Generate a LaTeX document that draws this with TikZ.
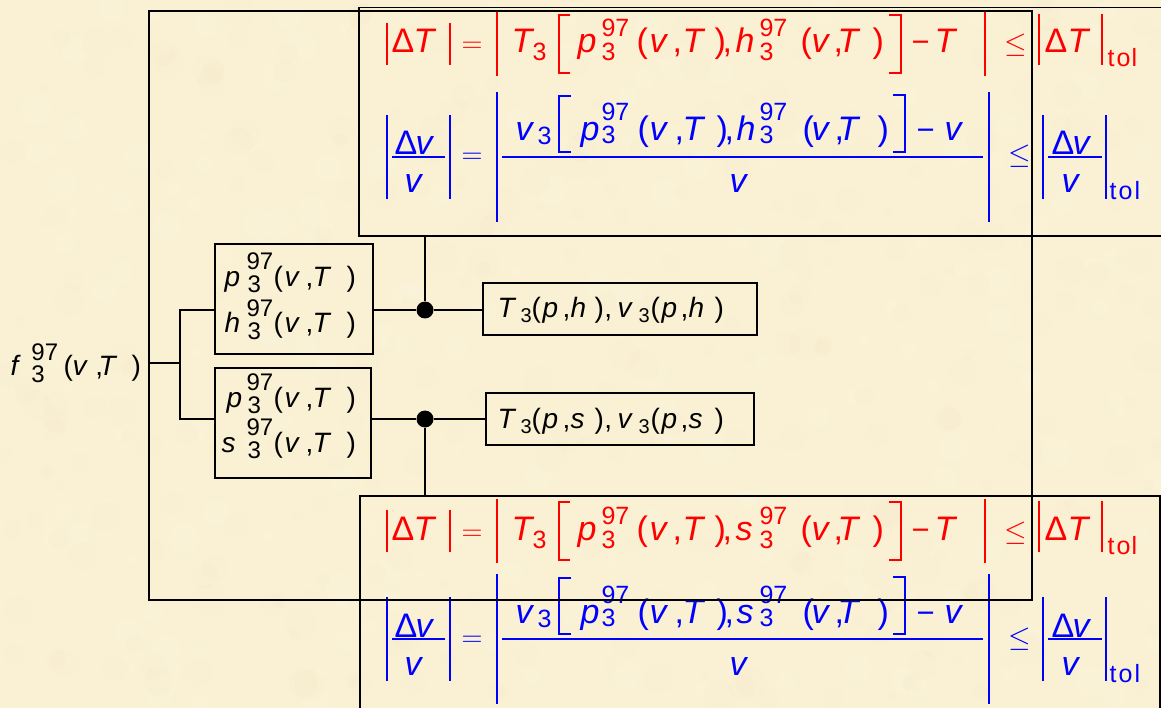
\documentclass[tikz,border=0pt]{standalone}
\usepackage{fix-cm}
\usepackage[no-math]{fontspec}
\setmainfont{Liberation Sans}
\definecolor{bg}{RGB}{250,241,212}
\definecolor{spotd}{RGB}{238,224,184}
\definecolor{spotl}{RGB}{255,250,234}
\definecolor{fr}{RGB}{255,0,0}
\definecolor{fb}{RGB}{0,0,255}
\newcommand\tk[3][0]{\unskip\rlap{\hspace*{#2pt}\raisebox{#1pt}{#3}}}
\newcommand\iv[1]{{\itshape #1}}
\newcommand\FB{\fontsize{34}{40}\selectfont}
\newcommand\FS{\fontsize{25}{30}\selectfont}
\newcommand\FE{\fontsize{29}{34}\selectfont}
\newcommand\FM{\fontsize{31}{36}\selectfont}
\newcommand\BB{\fontsize{28}{33}\selectfont}
\newcommand\BS{\fontsize{24}{28}\selectfont}
\newcommand\TB{\fontsize{28}{33}\selectfont}
\newcommand\TS{\fontsize{20}{24}\selectfont}
\tikzset{
  tx/.style={anchor=base west, inner sep=0pt, outer sep=0pt},
  bx/.style={draw, line width=1.3pt, inner sep=0pt, outer sep=0pt},
  fbx/.style={draw, line width=1.8pt, inner sep=0pt, outer sep=0pt},
  conn/.style={line width=1.2pt},
  rb/.style={draw=fr, line width=2pt},
  bb/.style={draw=fb, line width=2pt},
  rk/.style={draw=fr, line width=1.4pt},
  bk/.style={draw=fb, line width=1.4pt},
  dot/.style={circle, fill=black, inner sep=0pt, minimum size=17pt},
}
% #1 letter, #2 name prefix, #3 red shift, #4 blue shift
\newcommand\formulapair[4]{%
\begin{scope}[yshift=-#3pt]
  \draw[rb] (387,23) -- (387,65);
  \draw[rb] (450,23) -- (450,65);
  \draw[rb] (497,12) -- (497,76);
  \draw[rb] (985,12) -- (985,76);
  \draw[rk] (570,15) -- (559,15) -- (559,73) -- (570,73);
  \draw[rk] (889,15) -- (901,15) -- (901,73) -- (889,73);
  \draw[rb] (1039,14) -- (1039,65);
  \draw[rb] (1102,14) -- (1102,65);
  \node[tx, text=fr, font=\FB] (#2r) at (0,53) {%
    \tk{391}{Δ}\tk{413}{\iv T}%
    \tk{461}{\FE$=$}%
    \tk{511}{\iv T}\tk[-8]{532}{\FS 3}%
    \tk{577}{\iv p}\tk[16]{601}{\FS 97}\tk[-8]{601}{\FS 3}%
    \tk{636}{(}\tk{649}{\iv v}\tk{672}{,}\tk{682}{\iv T}\tk{714}{)}\tk{722}{,}%
    \tk{735}{\iv #1}\tk[16]{759}{\FS 97}\tk[-8]{759}{\FS 3}%
    \tk{800}{(}\tk{811}{\iv v}\tk{833}{,}\tk{837}{\iv T}\tk{872}{)}%
    \tk{911}{\FM −}\tk{934}{\iv T}%
    \tk{1004}{\FE$\leq$}%
    \tk{1044}{Δ}\tk{1067}{\iv T}%
    \tk[-14]{1107}{\FS t}\tk[-14]{1116}{\FS o}\tk[-14]{1131}{\FS l}};
\end{scope}
\begin{scope}[yshift=-#4pt]
  \draw[bb] (387,115) -- (387,199);
  \draw[bb] (450,115) -- (450,199);
  \draw[bb] (497,92) -- (497,222);
  \draw[bb] (989,92) -- (989,222);
  \draw[bb] (1043,115) -- (1043,199);
  \draw[bb] (1106,115) -- (1106,199);
  \draw[bk] (392,157) -- (445,157);
  \draw[bk] (502,157) -- (983,157);
  \draw[bk] (1048,157) -- (1102,157);
  \draw[bk] (571,96) -- (559,96) -- (559,152) -- (571,152);
  \draw[bk] (893,95) -- (905,95) -- (905,152) -- (893,152);
  \node[tx, text=fb, font=\FB] (#2b) at (0,141) {%
    \tk[-14]{394}{Δ}\tk[-14]{415}{\iv v}\tk[-52]{404}{\iv v}%
    \tk[-23]{461}{\FE$=$}%
    \tk{515}{\iv v}\tk[-4]{537}{\FS 3}%
    \tk{580}{\iv p}\tk[20]{601}{\FS 97}\tk[-3]{601}{\FS 3}%
    \tk{637}{(}\tk{649}{\iv v}\tk{674}{,}\tk{682}{\iv T}\tk{716}{)}\tk{724}{,}%
    \tk{736}{\iv #1}\tk[20]{759}{\FS 97}\tk[-3]{759}{\FS 3}%
    \tk{802}{(}\tk{811}{\iv v}\tk{834}{,}\tk{837}{\iv T}\tk{877}{)}%
    \tk{916}{\FM −}\tk{944}{\iv v}%
    \tk[-52]{729}{\iv v}%
    \tk[-23]{1008}{\FE$\leq$}%
    \tk[-14]{1051}{Δ}\tk[-14]{1072}{\iv v}\tk[-52]{1061}{\iv v}%
    \tk[-59]{1109}{\FS t}\tk[-59]{1118}{\FS o}\tk[-59]{1134}{\FS l}};
\end{scope}}
% box line: #1 letter, #2 first x
\newcommand\boxline[2]{%
  \tk{#2}{\iv #1}\tk[17]{246}{\BS 97}\tk[-6]{247}{\BS 3}%
  \tk{273}{(}\tk{284}{\iv v}\tk{305}{,}\tk{312}{\iv T}\tk{346}{)}}
\newcommand\tline[1]{%
  \tk{497}{\iv T}\tk[-5]{520}{\TS 3}\tk{531}{(}\tk{542}{\iv p}\tk{562}{,}%
  \tk{570}{\iv #1}\tk{594}{)}\tk{604}{,}\tk{617}{\iv v}\tk[-5]{638}{\TS 3}%
  \tk{650}{(}\tk{661}{\iv p}\tk{680}{,}\tk{688}{\iv #1}\tk{714}{)}}
\begin{document}
\begin{tikzpicture}[x=1pt, y=-1pt]
\useasboundingbox (0,0) rectangle (1161,708);
\fill[bg] (0,0) rectangle (1161,708);
\clip (0,0) rectangle (1161,708);
% parchment texture (subtle)
\pgfmathsetseed{12}
\foreach \i in {1,...,320}{
  \pgfmathsetmacro\xx{rnd*1161}
  \pgfmathsetmacro\yy{rnd*708}
  \pgfmathsetmacro\rr{4+rnd*12}
  \fill[spotd, opacity=0.07] (\xx,\yy) circle[radius=\rr];
}
\foreach \i in {1,...,200}{
  \pgfmathsetmacro\xx{rnd*1161}
  \pgfmathsetmacro\yy{rnd*708}
  \pgfmathsetmacro\rr{4+rnd*12}
  \fill[spotl, opacity=0.12] (\xx,\yy) circle[radius=\rr];
}

% formula boxes
\node[fbx, minimum width=811pt, minimum height=228.5pt] (F1) at (764.5,121.75) {};
\node[fbx, minimum width=800pt, minimum height=224pt] (F2) at (760,608) {};
\formulapair{h}{A}{0}{0}
\formulapair{s}{B}{487}{482}

% left label
\node[tx, font=\BB] (f) at (0,375) {%
  \tk{10}{\iv f}\tk[15]{31}{\BS 97}\tk[-7]{31}{\BS 3}%
  \tk{63}{(}\tk{72}{\iv v}\tk{95}{,}\tk{98}{\iv T}\tk{131}{)}};

% boxes
\node[bx, minimum width=158pt, minimum height=110pt] (b1) at (294,299) {};
\node[bx, minimum width=156pt, minimum height=110pt] (b2) at (293,423) {};
\node[bx, minimum width=274pt, minimum height=52pt] (t1) at (620,309) {};
\node[bx, minimum width=268pt, minimum height=52pt] (t2) at (620,419) {};

\node[tx, font=\BB] (b1a) at (0,287) {\boxline{p}{224}};
\node[tx, font=\BB] (b1b) at (0,333) {\boxline{h}{224}};
\node[tx, font=\BB] (b2a) at (0,407) {\boxline{p}{226}};
\node[tx, font=\BB] (b2b) at (0,452) {\boxline{s}{221}};
\node[tx, font=\TB] (t1x) at (0,318) {\tline{h}};
\node[tx, font=\TB] (t2x) at (0,428) {\tline{s}};

% outer frame
\node[draw, line width=1.2pt, inner sep=0pt, outer sep=0pt,
      minimum width=883pt, minimum height=589pt] (outer) at (590.5,305.5) {};

% connectors
\coordinate (br) at (180,363);
\node[dot] (d1) at (425,310) {};
\node[dot] (d2) at (425,419) {};
\draw[conn] (outer.west |- br) -- (br);
\draw[conn] (b1.west |- d1) -| (br) |- (b2.west |- d2);
\draw[conn] (b1.east |- d1) -- (d1) -- (t1.west |- d1);
\draw[conn] (b2.east |- d2) -- (d2) -- (t2.west |- d2);
\draw[conn] (d1) -- (d1 |- F1.south);
\draw[conn] (d2) -- (d2 |- F2.north);
\end{tikzpicture}
\end{document}
